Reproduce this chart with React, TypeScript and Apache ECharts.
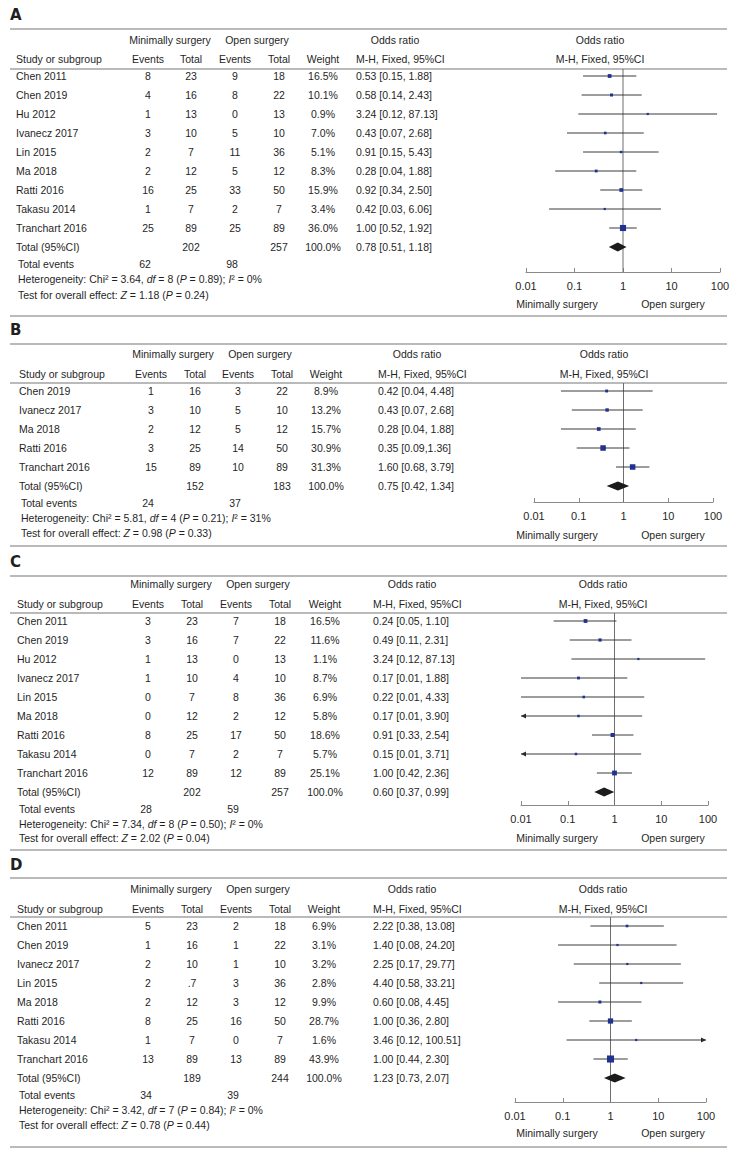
import React, { useEffect, useRef } from "react";
import * as echarts from "echarts";

// ---------- shared labels ----------
const tickLabels = ["0.01", "0.1", "1", "10", "100"];
const sideLabels = ["Minimally surgery", "Open surgery"];
const groupHeaders = ["Minimally surgery", "Open surgery", "Odds ratio"];
const colHeaders = ["Study or subgroup", "Events", "Total", "Events", "Total", "Weight", "M-H, Fixed, 95%CI"];

// ---------- Panel A ----------
const studiesA = ["Chen 2011", "Chen 2019", "Hu 2012", "Ivanecz 2017", "Lin 2015", "Ma 2018", "Ratti 2016", "Takasu 2014", "Tranchart 2016"];
const minEventsA = [8, 4, 1, 3, 2, 2, 16, 1, 25];
const minTotalA: (number | string)[] = [23, 16, 13, 10, 7, 12, 25, 7, 89];
const openEventsA = [9, 8, 0, 5, 11, 5, 33, 2, 25];
const openTotalA = [18, 22, 13, 10, 36, 12, 50, 7, 89];
const weightA = [16.5, 10.1, 0.9, 7.0, 5.1, 8.3, 15.9, 3.4, 36.0];
const ciA = ["0.53 [0.15, 1.88]", "0.58 [0.14, 2.43]", "3.24 [0.12, 87.13]", "0.43 [0.07, 2.68]", "0.91 [0.15, 5.43]", "0.28 [0.04, 1.88]", "0.92 [0.34, 2.50]", "0.42 [0.03, 6.06]", "1.00 [0.52, 1.92]"];
const totalsA = [202, 257];
const totalCiA = "0.78 [0.51, 1.18]";
const eventsA = [62, 98];
const hetA = [3.64, 8, 0.89, 0]; // Chi2, df, P, I2
const effectA = [1.18, 0.24]; // Z, P

// ---------- Panel B ----------
const studiesB = ["Chen 2019", "Ivanecz 2017", "Ma 2018", "Ratti 2016", "Tranchart 2016"];
const minEventsB = [1, 3, 2, 3, 15];
const minTotalB: (number | string)[] = [16, 10, 12, 25, 89];
const openEventsB = [3, 5, 5, 14, 10];
const openTotalB = [22, 10, 12, 50, 89];
const weightB = [8.9, 13.2, 15.7, 30.9, 31.3];
const ciB = ["0.42 [0.04, 4.48]", "0.43 [0.07, 2.68]", "0.28 [0.04, 1.88]", "0.35 [0.09,1.36]", "1.60 [0.68, 3.79]"];
const totalsB = [152, 183];
const totalCiB = "0.75 [0.42, 1.34]";
const eventsB = [24, 37];
const hetB = [5.81, 4, 0.21, 31];
const effectB = [0.98, 0.33];

// ---------- Panel C ----------
const studiesC = ["Chen 2011", "Chen 2019", "Hu 2012", "Ivanecz 2017", "Lin 2015", "Ma 2018", "Ratti 2016", "Takasu 2014", "Tranchart 2016"];
const minEventsC = [3, 3, 1, 1, 0, 0, 8, 0, 12];
const minTotalC: (number | string)[] = [23, 16, 13, 10, 7, 12, 25, 7, 89];
const openEventsC = [7, 7, 0, 4, 8, 2, 17, 2, 12];
const openTotalC = [18, 22, 13, 10, 36, 12, 50, 7, 89];
const weightC = [16.5, 11.6, 1.1, 8.7, 6.9, 5.8, 18.6, 5.7, 25.1];
const ciC = ["0.24 [0.05, 1.10]", "0.49 [0.11, 2.31]", "3.24 [0.12, 87.13]", "0.17 [0.01, 1.88]", "0.22 [0.01, 4.33]", "0.17 [0.01, 3.90]", "0.91 [0.33, 2.54]", "0.15 [0.01, 3.71]", "1.00 [0.42, 2.36]"];
const totalsC = [202, 257];
const totalCiC = "0.60 [0.37, 0.99]";
const eventsC = [28, 59];
const hetC = [7.34, 8, 0.5, 0];
const effectC = [2.02, 0.04];
const clippedLowC = ["Ma 2018", "Takasu 2014"];

// ---------- Panel D ----------
const studiesD = ["Chen 2011", "Chen 2019", "Ivanecz 2017", "Lin 2015", "Ma 2018", "Ratti 2016", "Takasu 2014", "Tranchart 2016"];
const minEventsD = [5, 1, 2, 2, 2, 8, 1, 13];
const minTotalD: (number | string)[] = [23, 16, 10, ".7", 12, 25, 7, 89];
const openEventsD = [2, 1, 1, 3, 3, 16, 0, 13];
const openTotalD = [18, 22, 10, 36, 12, 50, 7, 89];
const weightD = [6.9, 3.1, 3.2, 2.8, 9.9, 28.7, 1.6, 43.9];
const ciD = ["2.22 [0.38, 13.08]", "1.40 [0.08, 24.20]", "2.25 [0.17, 29.77]", "4.40 [0.58, 33.21]", "0.60 [0.08, 4.45]", "1.00 [0.36, 2.80]", "3.46 [0.12, 100.51]", "1.00 [0.44, 2.30]"];
const totalsD = [189, 244];
const totalCiD = "1.23 [0.73, 2.07]";
const eventsD = [34, 39];
const hetD = [3.42, 7, 0.84, 0];
const effectD = [0.78, 0.44];

const panels = [
  { letter: "A", studies: studiesA, minEv: minEventsA, minTot: minTotalA, openEv: openEventsA, openTot: openTotalA, weight: weightA, ci: ciA, totals: totalsA, totalCi: totalCiA, events: eventsA, het: hetA, effect: effectA, clippedLow: [] as string[] },
  { letter: "B", studies: studiesB, minEv: minEventsB, minTot: minTotalB, openEv: openEventsB, openTot: openTotalB, weight: weightB, ci: ciB, totals: totalsB, totalCi: totalCiB, events: eventsB, het: hetB, effect: effectB, clippedLow: [] as string[] },
  { letter: "C", studies: studiesC, minEv: minEventsC, minTot: minTotalC, openEv: openEventsC, openTot: openTotalC, weight: weightC, ci: ciC, totals: totalsC, totalCi: totalCiC, events: eventsC, het: hetC, effect: effectC, clippedLow: clippedLowC },
  { letter: "D", studies: studiesD, minEv: minEventsD, minTot: minTotalD, openEv: openEventsD, openTot: openTotalD, weight: weightD, ci: ciD, totals: totalsD, totalCi: totalCiD, events: eventsD, het: hetD, effect: effectD, clippedLow: [] as string[] },
];

// ---------- layout (positions only) ----------
const LAYOUT = [
  { labelY: 15, topLine: 29, hdr1: 40, hdr2: 59, hdrLine: 69, row0: 76, totEv: 264, het: 279, test: 295, axisY: 272, sideY: 304, bottomLine: 316, x0: 526, x100: 720, cols: [16, 148, 191, 235, 279, 323, 356], minHdr: 170, openHdr: 257, plotHdr: 600, noteX: 18, evX: [145, 232] },
  { labelY: 330, topLine: 344, hdr1: 354, hdr2: 374, hdrLine: 383, row0: 391, totEv: 503, het: 518, test: 533, axisY: 502, sideY: 535, bottomLine: 546, x0: 534, x100: 713, cols: [19, 151, 195, 238, 282, 326, 378], minHdr: 173, openHdr: 260, plotHdr: 604, noteX: 21, evX: [148, 235] },
  { labelY: 562, topLine: 576, hdr1: 584, hdr2: 604, hdrLine: 613, row0: 621, totEv: 809, het: 824, test: 838, axisY: 805, sideY: 838, bottomLine: 850, x0: 521, x100: 708, cols: [17, 148, 192, 236, 280, 325, 373], minHdr: 171, openHdr: 258, plotHdr: 603, noteX: 19, evX: [146, 233] },
  { labelY: 865, topLine: 878, hdr1: 889, hdr2: 909, hdrLine: 917, row0: 926, totEv: 1095, het: 1110, test: 1125, axisY: 1102, sideY: 1133, bottomLine: 1147, x0: 515, x100: 706, cols: [17, 148, 192, 236, 280, 324, 373], minHdr: 171, openHdr: 258, plotHdr: 603, noteX: 19, evX: [146, 233] },
];
const STEP = 19;
const LINE_X0 = 10;
const LINE_X1 = 727;
const FONT = "'Liberation Sans', Arial, sans-serif";
const FS = 10.5;
const TEXT = "#1f1f1f";
const RULE = "#a3a3a3";

const parseCi = (s: string) => (s.match(/[\d.]+/g) || []).map(Number);

function txt(x: number, y: number, text: string, align = "left", extra: any = {}) {
  return {
    type: "text",
    x,
    y,
    silent: true,
    style: {
      text,
      fill: TEXT,
      fontSize: FS,
      fontFamily: FONT,
      align,
      verticalAlign: "middle",
      textAlign: align,
      textVerticalAlign: "middle",
      ...extra,
    },
  };
}

function hline(y: number, w = 1.3) {
  return {
    type: "line",
    silent: true,
    shape: { x1: LINE_X0, y1: y, x2: LINE_X1, y2: y },
    style: { stroke: RULE, lineWidth: w },
  };
}

function buildOption() {
  const graphic: any[] = [];
  const grid: any[] = [];
  const xAxis: any[] = [];
  const yAxis: any[] = [];
  const series: any[] = [];
  const richIt = { i: { fontStyle: "italic", fontSize: FS, fontFamily: FONT, fill: TEXT, color: TEXT } };

  panels.forEach((p, k) => {
    const L = LAYOUT[k];
    const c = L.cols;
    // letter + rules
    graphic.push(txt(LINE_X0, L.labelY, p.letter, "left", { fontSize: 15, fontWeight: "bold", fontFamily: "'DejaVu Sans', Verdana, sans-serif" }));
    graphic.push(hline(L.topLine, 1.5), hline(L.hdrLine, 1.3), hline(L.bottomLine, 1.5));
    // headers
    graphic.push(txt(L.minHdr, L.hdr1, groupHeaders[0], "center"));
    graphic.push(txt(L.openHdr, L.hdr1, groupHeaders[1], "center"));
    graphic.push(txt(c[6] + 39, L.hdr1, groupHeaders[2], "center"));
    graphic.push(txt(L.plotHdr, L.hdr1, groupHeaders[2], "center"));
    colHeaders.forEach((h, j) => {
      if (j === 0 || j === 6) graphic.push(txt(c[j], L.hdr2, h, "left"));
      else graphic.push(txt(c[j], L.hdr2, h, "center"));
    });
    graphic.push(txt(L.plotHdr, L.hdr2, colHeaders[6], "center"));
    // study rows
    p.studies.forEach((s, i) => {
      const y = L.row0 + STEP * i;
      graphic.push(txt(c[0], y, s, "left"));
      graphic.push(txt(c[1], y, String(p.minEv[i]), "center"));
      graphic.push(txt(c[2], y, String(p.minTot[i]), "center"));
      graphic.push(txt(c[3], y, String(p.openEv[i]), "center"));
      graphic.push(txt(c[4], y, String(p.openTot[i]), "center"));
      graphic.push(txt(c[5], y, p.weight[i].toFixed(1) + "%", "center"));
      graphic.push(txt(c[6], y, p.ci[i], "left"));
    });
    const ty = L.row0 + STEP * p.studies.length;
    graphic.push(txt(c[0], ty, "Total (95%CI)", "left"));
    graphic.push(txt(c[2], ty, String(p.totals[0]), "center"));
    graphic.push(txt(c[4], ty, String(p.totals[1]), "center"));
    graphic.push(txt(c[5], ty, "100.0%", "center"));
    graphic.push(txt(c[6], ty, p.totalCi, "left"));
    // total events + notes
    graphic.push(txt(L.noteX, L.totEv, "Total events", "left"));
    graphic.push(txt(L.evX[0], L.totEv, String(p.events[0]), "center"));
    graphic.push(txt(L.evX[1], L.totEv, String(p.events[1]), "center"));
    const [chi, df, pv, i2] = p.het;
    graphic.push(
      txt(L.noteX, L.het, `Heterogeneity: Chi² = ${chi.toFixed(2)}, {i|df} = ${df} ({i|P} = ${pv.toFixed(2)}); {i|I}² = ${i2}%`, "left", { rich: richIt })
    );
    graphic.push(
      txt(L.noteX, L.test, `Test for overall effect: {i|Z} = ${p.effect[0].toFixed(2)} ({i|P} = ${p.effect[1].toFixed(2)})`, "left", { rich: richIt })
    );
    // side labels
    graphic.push(txt(557, L.sideY, sideLabels[0], "center"));
    graphic.push(txt(673, L.sideY, sideLabels[1], "center"));

    // ---- plot ----
    const yMin = (L.hdrLine - L.row0) / STEP;
    const yMax = (L.axisY - L.row0) / STEP;
    grid.push({ left: L.x0, top: L.hdrLine, width: L.x100 - L.x0, height: L.axisY - L.hdrLine, containLabel: false });
    xAxis.push({
      type: "log",
      logBase: 10,
      min: 0.01,
      max: 100,
      gridIndex: k,
      position: "bottom",
      axisLine: { show: true, onZero: false, lineStyle: { color: "#8a8a8a", width: 1 } },
      axisTick: { show: true, inside: true, length: 4, lineStyle: { color: "#8a8a8a" } },
      axisLabel: {
        show: true,
        margin: 8,
        color: TEXT,
        fontSize: 11,
        fontFamily: FONT,
        formatter: (v: number) => tickLabels[Math.round(Math.log10(v)) + 2] ?? "",
      },
      splitLine: { show: false },
      minorTick: { show: false },
    });
    yAxis.push({ type: "value", gridIndex: k, min: yMin, max: yMax, inverse: true, show: false, splitLine: { show: false } });

    series.push({
      type: "line",
      xAxisIndex: k,
      yAxisIndex: k,
      data: [[1, yMin], [1, yMax]],
      symbol: "none",
      silent: true,
      lineStyle: { color: "#6f6f6f", width: 1 },
      z: 1,
    });

    const data: number[][] = p.ci.map((s, i) => {
      const [or, lo, hi] = parseCi(s);
      const clipL = p.clippedLow.includes(p.studies[i]) || lo < 0.01 ? 1 : 0;
      const clipR = hi > 100 ? 1 : 0;
      return [or, lo, hi, p.weight[i], i, 0, clipL, clipR];
    });
    const [tor, tlo, thi] = parseCi(p.totalCi);
    data.push([tor, tlo, thi, 100, p.studies.length, 1, 0, 0]);

    series.push({
      type: "custom",
      xAxisIndex: k,
      yAxisIndex: k,
      silent: true,
      z: 3,
      encode: { x: 0, y: 4 },
      data,
      renderItem: (params: any, api: any) => {
        const or = api.value(0);
        const lo = Math.max(api.value(1), 0.01);
        const hi = Math.min(api.value(2), 100);
        const w = api.value(3);
        const row = api.value(4);
        const kind = api.value(5);
        const aL = api.value(6);
        const aR = api.value(7);
        const pO = api.coord([or, row]);
        const pL = api.coord([lo, row]);
        const pH = api.coord([hi, row]);
        const y = pO[1];
        if (kind === 1) {
          return {
            type: "polygon",
            shape: { points: [[pL[0], y], [pO[0], y - 4.5], [pH[0], y], [pO[0], y + 4.5]] },
            style: { fill: "#1b1b1b" },
          };
        }
        const s = Math.max(2.2, 1.8 + w * 0.12);
        const children: any[] = [
          { type: "line", shape: { x1: pL[0], y1: y, x2: pH[0], y2: y }, style: { stroke: "#3a3a3a", lineWidth: 1 } },
          { type: "rect", shape: { x: pO[0] - s / 2, y: y - s / 2, width: s, height: s }, style: { fill: "#1f3290" } },
        ];
        if (aL) children.push({ type: "polygon", shape: { points: [[pL[0], y], [pL[0] + 5, y - 2.5], [pL[0] + 5, y + 2.5]] }, style: { fill: "#2a2a2a" } });
        if (aR) children.push({ type: "polygon", shape: { points: [[pH[0], y], [pH[0] - 5, y - 2.5], [pH[0] - 5, y + 2.5]] }, style: { fill: "#2a2a2a" } });
        return { type: "group", children };
      },
    });
  });

  return { animation: false, backgroundColor: "#ffffff", grid, xAxis, yAxis, series, graphic };
}

export default function App() {
  const ref = useRef<HTMLDivElement>(null);
  useEffect(() => {
    document.body.style.margin = "0";
    const chart = echarts.init(ref.current!, undefined, { renderer: "svg" });
    chart.setOption(buildOption() as any);
    return () => chart.dispose();
  }, []);
  return <div ref={ref} style={{ width: 735, height: 1157, background: "#fff" }} />;
}
